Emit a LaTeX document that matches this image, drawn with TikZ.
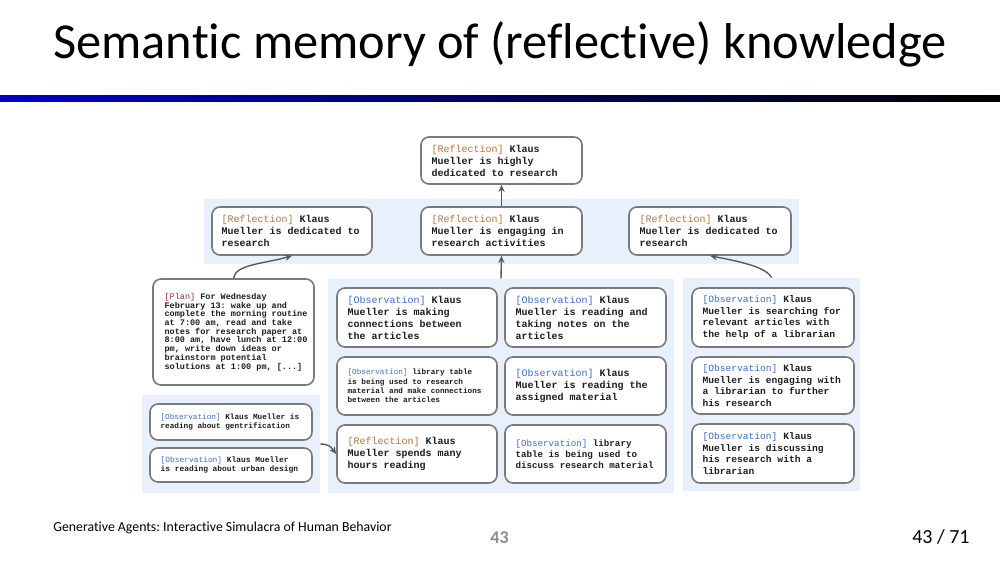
\documentclass[tikz,border=0pt]{standalone}
\usepackage{fontspec}
\setmainfont[Ligatures={NoCommon,NoContextual}]{Carlito}
\newfontfamily\mono{Liberation Mono}
\usetikzlibrary{arrows.meta}
\frenchspacing

\definecolor{panel}{HTML}{E8F0FB}
\definecolor{boxline}{HTML}{7A7A7A}
\definecolor{ink}{HTML}{1E1E1E}
\definecolor{reflc}{HTML}{B8723C}
\definecolor{obsc}{HTML}{3F6EC4}
\definecolor{planc}{HTML}{9A2B2B}
\definecolor{arrowc}{HTML}{555B63}
\definecolor{pagenum}{HTML}{8C8C8C}
\definecolor{barblue}{HTML}{0000C8}
\definecolor{barmid}{HTML}{00005A}

% memory-type tags, set in the regular weight
\newcommand\reftag{\textcolor{reflc}{\mdseries[Reflection]}}
\newcommand\obstag{\textcolor{obsc}{\mdseries[Observation]}}
\newcommand\plantag{\textcolor{planc}{\mdseries[Plan]}}

\tikzset{
  panelbox/.style={fill=panel, draw=none, inner sep=0pt},
  card/.style={draw=boxline, fill=white, line width=0.8pt, rounded corners=4pt, inner sep=0pt},
  cardtext/.style={anchor=west, align=left, inner sep=0pt, text=ink},
  link/.style={draw=arrowc, line width=0.7pt, -{Stealth[length=3.6pt,width=3.2pt]}},
}

\begin{document}
\begin{tikzpicture}[x=0.5pt,y=-0.5pt]
\useasboundingbox (0,0) rectangle (1000,563);

% title and rule
\node[font=\fontsize{25.2}{29}\selectfont, anchor=base, inner sep=0pt] (title) at (500,58)
  {Semantic memory of (reflective) knowledge};
\shade[left color=barblue, middle color=barmid, right color=black] (0,95) rectangle (1000,101);

% background panels
\node[panelbox, minimum width=297.5pt, minimum height=32.5pt] (toppanel) at (501.5,231.5) {};
\node[panelbox, minimum width=89pt, minimum height=49pt] (lpanel) at (231,444) {};
\node[panelbox, minimum width=173pt, minimum height=107pt] (midpanel) at (501,386) {};
\node[panelbox, minimum width=88.5pt, minimum height=106.5pt] (rpanel) at (771.5,384.5) {};

% reflections
\node[card, minimum width=80.5pt, minimum height=23.5pt] (top) at (501.5,160.5) {};
\node[cardtext, font=\mono\bfseries\fontsize{5}{6}\selectfont] (top-t) at ([xshift=5.5pt]top.west)
  {\reftag\ Klaus\\Mueller is highly\\dedicated to research};

\node[card, minimum width=80pt, minimum height=24pt] (refL) at (292,231) {};
\node[cardtext, font=\mono\bfseries\fontsize{5}{6}\selectfont] (refL-t) at ([xshift=5pt]refL.west)
  {\reftag\ Klaus\\Mueller is dedicated to\\research};

\node[card, minimum width=80.5pt, minimum height=24pt] (refM) at (501.5,231) {};
\node[cardtext, font=\mono\bfseries\fontsize{5}{6}\selectfont] (refM-t) at ([xshift=5.5pt]refM.west)
  {\reftag\ Klaus\\Mueller is engaging in\\research activities};

\node[card, minimum width=81pt, minimum height=24pt] (refR) at (710,231) {};
\node[cardtext, font=\mono\bfseries\fontsize{5}{6}\selectfont] (refR-t) at ([xshift=5.5pt]refR.west)
  {\reftag\ Klaus\\Mueller is dedicated to\\research};

% plan
\node[card, minimum width=80.5pt, minimum height=53pt] (plan) at (233.5,332) {};
\node[cardtext, font=\mono\bfseries\fontsize{4.25}{4.35}\selectfont] (plan-t) at ([xshift=6pt]plan.west)
  {\plantag\ For Wednesday\\February 13: wake up and\\complete the morning routine\\at 7:00 am, read and take\\notes for research paper at\\8:00 am, have lunch at 12:00\\pm, write down ideas or\\brainstorm potential\\solutions at 1:00 pm, [...]};

% reading observations
\node[card, minimum width=81pt, minimum height=18pt] (o1) at (231,422) {};
\node[cardtext, font=\mono\bfseries\fontsize{3.85}{4.6}\selectfont] (o1-t) at ([xshift=5.5pt]o1.west)
  {\obstag\ Klaus Mueller is\\reading about gentrification};

\node[card, minimum width=81pt, minimum height=17pt] (o2) at (231,465) {};
\node[cardtext, font=\mono\bfseries\fontsize{3.95}{4.7}\selectfont] (o2-t) at ([xshift=5.5pt]o2.west)
  {\obstag\ Klaus Mueller\\is reading about urban design};

% library observations
\node[card, minimum width=80pt, minimum height=29.5pt] (m11) at (417,317.5) {};
\node[cardtext, font=\mono\bfseries\fontsize{5}{6}\selectfont] (m11-t) at ([xshift=5.5pt]m11.west)
  {\obstag\ Klaus\\Mueller is making\\connections between\\the articles};

\node[card, minimum width=80.5pt, minimum height=29.5pt] (m12) at (585.5,317.5) {};
\node[cardtext, font=\mono\bfseries\fontsize{5}{6}\selectfont] (m12-t) at ([xshift=5.5pt]m12.west)
  {\obstag\ Klaus\\Mueller is reading and\\taking notes on the\\articles};

\node[card, minimum width=80pt, minimum height=29pt] (m21) at (417,386) {};
\node[cardtext, font=\mono\bfseries\fontsize{3.85}{4.65}\selectfont] (m21-t) at ([xshift=5.5pt]m21.west)
  {\obstag\ library table\\is being used to research\\material and make connections\\between the articles};

\node[card, minimum width=80.5pt, minimum height=29pt] (m22) at (585.5,386) {};
\node[cardtext, font=\mono\bfseries\fontsize{5}{6}\selectfont] (m22-t) at ([xshift=5.5pt]m22.west)
  {\obstag\ Klaus\\Mueller is reading the\\assigned material};

\node[card, minimum width=80pt, minimum height=29pt] (m31) at (417,454) {};
\node[cardtext, font=\mono\bfseries\fontsize{5}{5.85}\selectfont] (m31-t) at ([xshift=5.5pt]m31.west)
  {\reftag\ Klaus\\Mueller spends many\\hours reading};

\node[card, minimum width=80.5pt, minimum height=29pt] (m32) at (585.5,454) {};
\node[cardtext, font=\mono\bfseries\fontsize{4.6}{5.5}\selectfont] (m32-t) at ([xshift=5.5pt]m32.west)
  {\obstag\ library\\table is being used to\\discuss research material};

% librarian observations
\node[card, minimum width=81pt, minimum height=29.5pt] (r1) at (773,317.5) {};
\node[cardtext, font=\mono\bfseries\fontsize{4.8}{5.85}\selectfont] (r1-t) at ([xshift=5.5pt]r1.west)
  {\obstag\ Klaus\\Mueller is searching for\\relevant articles with\\the help of a librarian};

\node[card, minimum width=81pt, minimum height=28.5pt] (r2) at (773,385.5) {};
\node[cardtext, font=\mono\bfseries\fontsize{4.8}{5.85}\selectfont] (r2-t) at ([xshift=5.5pt]r2.west)
  {\obstag\ Klaus\\Mueller is engaging with\\a librarian to further\\his research};

\node[card, minimum width=81pt, minimum height=29.5pt] (r3) at (773,453.5) {};
\node[cardtext, font=\mono\bfseries\fontsize{4.8}{5.85}\selectfont] (r3-t) at ([xshift=5.5pt]r3.west)
  {\obstag\ Klaus\\Mueller is discussing\\his research with a\\librarian};

% connectors
\draw[link] (refM.north) -- (top.south);
\draw[link] (midpanel.north) -- (refM.south);
\draw[link] (plan.north) .. controls +(2,-14) and +(-28,8) .. (refL.south);
\draw[link] (rpanel.north) .. controls +(-5,-11) and +(26,5) .. (refR.south);
\draw[link] (lpanel.east) .. controls +(8,0) and +(-5,-7) .. (m31.west);

% footer
\node[font=\fontsize{6.9}{8}\selectfont, anchor=base west, inner sep=0pt] (source) at (53,531)
  {Generative Agents: Interactive Simulacra of Human Behavior};
\node[font=\bfseries\fontsize{9}{11}\selectfont, text=pagenum, anchor=base, inner sep=0pt] (slideno) at (499.5,543) {43};
\node[font=\fontsize{10}{12}\selectfont, anchor=base east, inner sep=0pt] (pages) at (970,543) {43 / 71};
\end{tikzpicture}
\end{document}
